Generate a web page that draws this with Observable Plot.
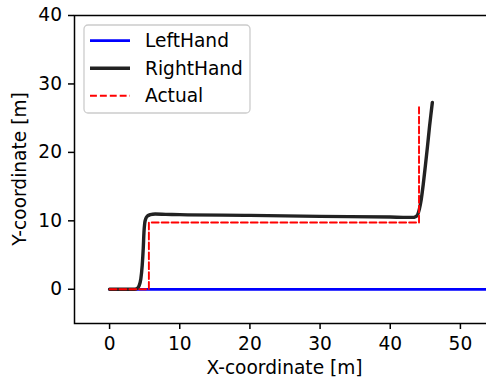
<!DOCTYPE html>
<html>
<head>
<meta charset="utf-8">
<script src="https://cdn.jsdelivr.net/npm/d3@7"></script>
<script src="https://cdn.jsdelivr.net/npm/@observablehq/plot@0.6"></script>
<style>
  html, body { margin: 0; padding: 0; background: #fff; overflow: hidden; }
  #wrap { position: relative; width: 486px; height: 378px; }
  #wrap svg text { font-size: 18.6px; fill: #000; font-family: "DejaVu Sans", sans-serif; }
  #wrap svg g[aria-label^="x-axis"] path, #wrap svg g[aria-label^="x-axis"] line,
  #wrap svg g[aria-label^="y-axis"] path, #wrap svg g[aria-label^="y-axis"] line { stroke-width: 1.5px; stroke: #000; }
</style>
</head>
<body>
<div id="wrap"></div>
<script>
// Series names
const seriesNames = ["LeftHand", "RightHand", "Actual"];
// Axis titles
const xTitle = "X-coordinate [m]";
const yTitle = "Y-coordinate [m]";
// LeftHand trajectory
const leftX = [0, 55];
const leftY = [0, 0];
// RightHand trajectory
const rightX = [0, 3.5, 3.9, 4.2, 4.45, 4.65, 4.8, 4.9, 5.0, 5.15, 5.4, 5.8, 6.5, 8, 10, 20, 30, 40, 42.5, 43.2, 43.6, 43.9, 44.15, 44.4, 44.7, 45.0, 45.3, 45.6, 45.85, 46.0];
const rightY = [0, 0, 0.1, 0.5, 1.5, 3.5, 6, 8.3, 9.6, 10.3, 10.7, 10.9, 11.0, 10.95, 10.9, 10.8, 10.65, 10.55, 10.5, 10.5, 10.6, 10.9, 11.7, 13, 15.3, 18, 20.8, 23.8, 26, 27.3];
// Actual trajectory
const actualX = [0, 5.6, 5.6, 44.1, 44.1];
const actualY = [0, 0, 9.75, 9.75, 26.6];
// Axis ticks
const xTicks = [0, 10, 20, 30, 40, 50];
const yTicks = [0, 10, 20, 30, 40];

const colors = ["#0000ff", "#222222", "#ff0000"];
const widths = [2.8, 3.4, 1.9];
const dashes = [null, null, "6.9,3"];

const left = leftX.map((x, i) => ({x, y: leftY[i]}));
const right = rightX.map((x, i) => ({x, y: rightY[i]}));
const actual = actualX.map((x, i) => ({x, y: actualY[i]}));

const plot = Plot.plot({
  width: 486,
  height: 378,
  marginLeft: 74,
  marginTop: 15,
  marginBottom: 55,
  marginRight: -9,
  style: {fontFamily: "DejaVu Sans, sans-serif", fontSize: "18.6px", color: "#000", background: "#fff", overflow: "visible"},
  x: {domain: [-5, 55], ticks: xTicks, tickSize: 6, tickPadding: 7, tickFormat: d => String(d), label: null},
  y: {domain: [-5, 40], ticks: yTicks, tickSize: 6, tickPadding: 6.5, tickFormat: d => String(d), label: null},
  marks: [
    Plot.line(left, {x: "x", y: "y", stroke: colors[0], strokeWidth: widths[0], clip: true}),
    Plot.line(right, {x: "x", y: "y", stroke: colors[1], strokeWidth: widths[1], curve: "monotone-x", clip: true}),
    Plot.line(actual, {x: "x", y: "y", stroke: colors[2], strokeWidth: widths[2], strokeDasharray: dashes[2], clip: true}),
    Plot.frame({stroke: "#000", strokeWidth: 1.5})
  ]
});

const wrap = document.getElementById("wrap");
wrap.appendChild(plot);

const svg = d3.select(plot);
const xs = plot.scale("x"), ys = plot.scale("y");
const rx = xs.range, ry = ys.range;
const cx = (rx[0] + rx[1]) / 2;
const cy = (ry[0] + ry[1]) / 2;

// Axis titles
svg.append("text").attr("x", cx).attr("y", 373.5).attr("text-anchor", "middle").text(xTitle);
svg.append("text").attr("transform", `translate(26,${cy}) rotate(-90)`).attr("text-anchor", "middle").text(yTitle);

// Legend
const lg = svg.append("g").attr("aria-label", "legend");
lg.append("rect").attr("x", 84).attr("y", 25).attr("width", 166).attr("height", 88).attr("rx", 4)
  .attr("fill", "#fff").attr("fill-opacity", 0.8).attr("stroke", "#cccccc").attr("stroke-width", 1.3);
seriesNames.forEach((name, i) => {
  const ly = 40.6 + i * 27.6;
  const l = lg.append("line").attr("x1", 90).attr("x2", 130).attr("y1", ly).attr("y2", ly)
    .attr("stroke", colors[i]).attr("stroke-width", widths[i]);
  if (dashes[i]) l.attr("stroke-dasharray", dashes[i]);
  lg.append("text").attr("x", 145).attr("y", ly + 6.3).attr("text-anchor", "start").text(name);
});
</script>
</body>
</html>
